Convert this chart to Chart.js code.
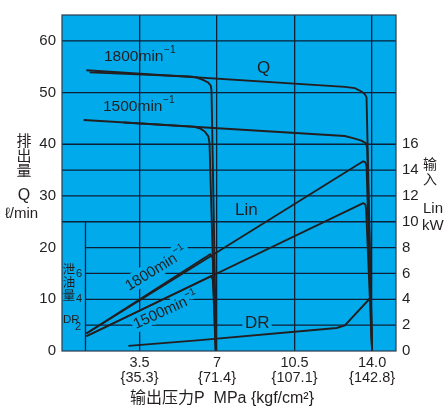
<!DOCTYPE html>
<html lang="zh">
<head>
<meta charset="utf-8">
<title>P-Q 特性</title>
<script src="https://cdn.jsdelivr.net/npm/chart.js@4.4.1/dist/chart.umd.min.js"></script>
<style>
  html, body { margin: 0; padding: 0; background: #ffffff; }
  #chart { display: block; }
</style>
</head>
<body>
<canvas id="chart" width="446" height="410"></canvas>
<script>
/* ---------- 数据 ---------- */

// 横轴：输出压力 P (MPa)
const pressureTicks = [3.5, 7, 10.5, 14];
const pressureTickLabels = ['3.5', '7', '10.5', '14.0'];
const pressureKgfLabels = ['{35.3}', '{71.4}', '{107.1}', '{142.8}'];

// 左轴：排出量 Q (ℓ/min)，右轴：输入 Lin (kW) / 泄油量 DR
const flowTicks = [0, 10, 20, 30, 40, 50, 60];
const powerTicks = [0, 2, 4, 6, 8, 10, 12, 14, 16];
const flowGridFull = [40, 50, 60];
const powerGridFull = [10, 12, 14];
const powerGridShort = [2, 4, 6, 8];
const drainAxisP = 1.06;

// 排出量 Q — 1800min-1
const q1800c7P = [1.25, 5.79, 6.09, 6.39, 6.61, 6.72, 6.75, 6.96];
const q1800c7Q = [53.9, 53.1, 52.9, 52.4, 51.9, 51.3, 50.3, 0];
const q1800c14P = [1.1, 12.77, 13.22, 13.52, 13.67, 13.75, 14.0];
const q1800c14Q = [54.3, 51.1, 50.86, 50.2, 49.7, 49.1, 0];

// 排出量 Q — 1500min-1
const q1500c7P = [0.98, 5.94, 6.24, 6.46, 6.61, 6.66, 6.93];
const q1500c7Q = [44.7, 43.4, 43.05, 42.4, 41.5, 40.2, 0];
const q1500c14P = [2.78, 12.77, 13.22, 13.52, 13.72, 13.78, 14.0];
const q1500c14Q = [44.2, 41.6, 41.1, 40.7, 40.2, 39.2, 0];

// 输入 Lin (kW)
const lin1800c7P = [1.1, 6.69, 6.81, 6.96];
const lin1800c7 = [1.35, 7.49, 7.2, 0];
const lin1800c14P = [1.1, 13.6, 13.7, 13.75, 14.0];
const lin1800c14 = [1.35, 14.68, 14.6, 14.3, 0];
const lin1500c7P = [1.1, 6.72, 6.81, 6.95];
const lin1500c7 = [1.14, 5.79, 5.54, 0];
const lin1500c14P = [1.1, 13.6, 13.7, 13.73, 14.0];
const lin1500c14 = [1.14, 11.45, 11.33, 11.0, 0];

// 泄油量 DR
const drainP = [3.0, 6.24, 12.4, 12.77, 13.92];
const drain = [0.4, 0.84, 1.78, 1.98, 4.1];

/* ---------- 样式 ---------- */

const LATIN = '"Liberation Sans", Arial, "Noto Sans CJK SC", sans-serif';
const NARROW = '"Liberation Sans Narrow", "Liberation Sans", sans-serif';
const CJK = '"Noto Sans CJK SC", sans-serif';
const INK = '#231f20';
const GRID = '#0c2136';
const PANEL = '#00aaeb';

function pts(xs, ys) {
    return xs.map((x, i) => ({ x, y: ys[i] }));
}

function curve(label, xs, ys, axis) {
    return {
        label,
        data: pts(xs, ys),
        yAxisID: axis,
        borderColor: INK,
        borderWidth: 1.9,
        pointRadius: 0,
        tension: 0,
        fill: false
    };
}

// 文字（halo>0 时只画蓝色描边，用来遮住网格线）
function put(ctx, s, x, y, size, opts = {}) {
    ctx.font = `${size}px ${opts.family || LATIN}`;
    ctx.textAlign = opts.align || 'left';
    ctx.textBaseline = opts.baseline || 'alphabetic';
    if (opts.halo) {
        ctx.strokeStyle = PANEL;
        ctx.lineWidth = opts.halo;
        ctx.lineJoin = 'round';
        ctx.strokeText(s, x, y);
    } else {
        ctx.fillStyle = INK;
        ctx.fillText(s, x, y);
    }
    return ctx.measureText(s).width;
}

// "1800min⁻¹" 之类的转速标注
function rpmLabel(ctx, rpm, x, y, angle, size, halo) {
    const passes = halo ? [halo, 0] : [0];
    passes.forEach(h => {
        ctx.save();
        ctx.translate(x, y);
        ctx.rotate(angle);
        const w = put(ctx, rpm + 'min', 0, 0, size, { halo: h });
        put(ctx, '−1', w + 0.5, -size * 0.5, size * 0.66, { halo: h });
        ctx.restore();
    });
}

function vertical(ctx, chars, x, y0, step, size) {
    [...chars].forEach((c, i) => put(ctx, c, x, y0 + i * step, size, { family: CJK, align: 'center', baseline: 'middle' }));
}

/* ---------- 背景、网格与标注 ---------- */

const panelPlugin = {
    id: 'panel',
    beforeDraw(chart) {
        const { ctx, chartArea: a } = chart;
        ctx.save();
        ctx.fillStyle = PANEL;
        ctx.fillRect(a.left, a.top, a.right - a.left, a.bottom - a.top);
        ctx.restore();
    },
    beforeDatasetsDraw(chart) {
        const { ctx, chartArea: a, scales } = chart;
        const sx = scales.x, sq = scales.y, sp = scales.yR;
        const xDr = sx.getPixelForValue(drainAxisP);

        ctx.save();
        ctx.strokeStyle = GRID;
        ctx.lineWidth = 1.3;
        const hline = (py, x0) => {
            ctx.beginPath();
            ctx.moveTo(x0, py);
            ctx.lineTo(a.right, py);
            ctx.stroke();
        };
        flowGridFull.forEach(v => hline(sq.getPixelForValue(v), a.left));
        powerGridFull.forEach(v => hline(sp.getPixelForValue(v), a.left));
        powerGridShort.forEach(v => hline(sp.getPixelForValue(v), xDr));

        // 泄油量刻度竖线
        ctx.beginPath();
        ctx.moveTo(xDr, sp.getPixelForValue(10));
        ctx.lineTo(xDr, a.bottom);
        ctx.stroke();

        // 图内文字
        rpmLabel(ctx, '1800', 104, 61, 0, 15.5, 0);
        rpmLabel(ctx, '1500', 103, 111, 0, 15.5, 0);
        put(ctx, 'Q', 257, 73, 17);
        put(ctx, 'Lin', 235, 215, 17);
        put(ctx, 'DR', 245, 328, 17, { halo: 8 });
        put(ctx, 'DR', 245, 328, 17);

        rpmLabel(ctx, '1800', 129, 291, -31.6 * Math.PI / 180, 15, 8);
        rpmLabel(ctx, '1500', 136, 329, -24.5 * Math.PI / 180, 15, 8);

        // 泄油量刻度
        vertical(ctx, '泄油量', 69, 269, 13, 12.5);
        put(ctx, '6', 76, 277, 11);
        put(ctx, '4', 76, 302, 11);
        put(ctx, 'DR', 63, 323, 11.5, { family: NARROW });
        put(ctx, '2', 75, 330, 11);
        ctx.restore();
    },
    afterDraw(chart) {
        const { ctx, chartArea: a } = chart;
        ctx.save();
        ctx.strokeStyle = '#2b3b4f';
        ctx.lineWidth = 1.2;
        ctx.strokeRect(a.left, a.top, a.right - a.left, a.bottom - a.top);

        // 轴标题
        vertical(ctx, '排出量', 24, 140, 15, 15);
        put(ctx, 'Q', 24, 200, 16, { align: 'center' });
        put(ctx, 'ℓ/min', 5, 218, 15);
        vertical(ctx, '输入', 430, 164, 15, 14);
        put(ctx, 'Lin', 423, 213, 15);
        put(ctx, 'kW', 422, 230, 15);
        put(ctx, '输出压力P  MPa {kgf/cm²}', 130, 403, 16);
        ctx.restore();
    }
};

/* ---------- 图表 ---------- */

const ctx = document.getElementById('chart').getContext('2d');

new Chart(ctx, {
    type: 'line',
    data: {
        datasets: [
            curve('Q 1800 7MPa', q1800c7P, q1800c7Q, 'y'),
            curve('Q 1800 14MPa', q1800c14P, q1800c14Q, 'y'),
            curve('Q 1500 7MPa', q1500c7P, q1500c7Q, 'y'),
            curve('Q 1500 14MPa', q1500c14P, q1500c14Q, 'y'),
            curve('Lin 1800 7MPa', lin1800c7P, lin1800c7, 'yR'),
            curve('Lin 1800 14MPa', lin1800c14P, lin1800c14, 'yR'),
            curve('Lin 1500 7MPa', lin1500c7P, lin1500c7, 'yR'),
            curve('Lin 1500 14MPa', lin1500c14P, lin1500c14, 'yR'),
            curve('DR', drainP, drain, 'yR')
        ]
    },
    options: {
        responsive: false,
        devicePixelRatio: 1,
        animation: false,
        events: [],
        layout: { padding: { top: 9, left: 0, right: 0, bottom: 0 } },
        plugins: {
            legend: { display: false },
            tooltip: { enabled: false }
        },
        scales: {
            x: {
                type: 'linear',
                min: 0,
                max: 15.08,
                afterBuildTicks: s => { s.ticks = pressureTicks.map(v => ({ value: v })); },
                afterFit: s => { s.height = 59; },
                grid: { color: GRID, lineWidth: 1.3, drawTicks: false },
                border: { display: false },
                ticks: {
                    padding: 4,
                    color: INK,
                    autoSkip: false,
                    maxRotation: 0,
                    font: { family: LATIN, size: 14.5, lineHeight: 1.05 },
                    callback: (v, i) => [pressureTickLabels[i], pressureKgfLabels[i]]
                }
            },
            y: {
                position: 'left',
                min: 0,
                max: 65,
                afterBuildTicks: s => { s.ticks = flowTicks.map(v => ({ value: v })); },
                afterFit: s => { s.width = 62; },
                grid: { display: false, drawTicks: false },
                border: { display: false },
                ticks: { padding: 6, color: INK, font: { family: LATIN, size: 15 } }
            },
            yR: {
                position: 'right',
                min: 0,
                max: 26,
                afterBuildTicks: s => { s.ticks = powerTicks.map(v => ({ value: v })); },
                afterFit: s => { s.width = 50; },
                grid: { display: false, drawTicks: false },
                border: { display: false },
                ticks: { padding: 6, color: INK, font: { family: LATIN, size: 15 } }
            }
        }
    },
    plugins: [panelPlugin]
});
</script>
</body>
</html>
